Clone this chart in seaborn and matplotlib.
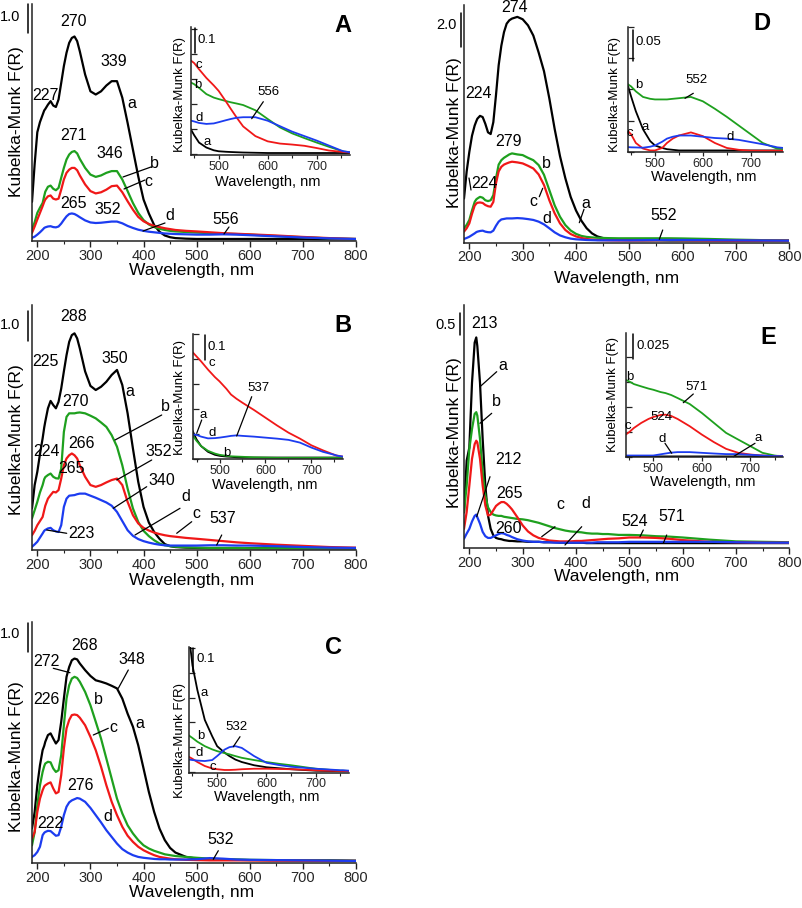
import matplotlib
matplotlib.use("Agg")
import matplotlib.pyplot as plt
from matplotlib.ticker import FixedLocator, MultipleLocator, NullFormatter
import seaborn as sns

sns.set_theme(style="ticks")
plt.rcParams['font.family'] = ['Liberation Sans', 'DejaVu Sans']

W, H = 803, 908

# ---------------- data (Kubelka-Munk F(R)) ----------------
G = [190, 195, 200, 205, 210, 213, 215, 220, 225, 230, 235, 240, 245, 250, 255,
     260, 265, 270, 275, 280, 290, 300, 310, 320, 330, 340, 350, 360, 370, 380,
     390, 400, 410, 420, 430, 440, 450, 460, 480, 500, 525, 550, 575, 600, 650,
     700, 750, 800]

A_a = [1.3, 2.6, 3.7, 4.05, 4.3, 4.45, 4.5, 4.65, 4.77, 4.62, 4.57, 4.83, 5.4, 5.98, 6.44,
       6.78, 6.95, 7.0, 6.84, 6.49, 5.69, 5.11, 5.0, 5.11, 5.31, 5.46, 5.46, 4.89, 4.02, 3.1,
       2.18, 1.38, 0.9, 0.5, 0.27, 0.14, 0.08, 0.05, 0.03, 0.02, 0.02, 0.02, 0.02, 0.02, 0.02,
       0.02, 0.01, 0.01]
A_b = [0.34, 0.6, 0.92, 1.1, 1.26, 1.5, 1.65, 1.82, 1.86, 1.75, 1.70, 1.78, 2.13, 2.47, 2.76,
       2.93, 3.02, 3.05, 2.97, 2.78, 2.47, 2.24, 2.16, 2.21, 2.30, 2.36, 2.36, 2.07, 1.67, 1.26,
       0.92, 0.67, 0.52, 0.43, 0.37, 0.33, 0.30, 0.28, 0.26, 0.24, 0.22, 0.20, 0.19, 0.17, 0.12,
       0.08, 0.04, 0.02]
A_c = [0.23, 0.45, 0.69, 0.92, 1.15, 1.3, 1.38, 1.49, 1.52, 1.41, 1.38, 1.41, 1.72, 2.07, 2.30,
       2.41, 2.47, 2.47, 2.39, 2.21, 1.90, 1.67, 1.59, 1.63, 1.72, 1.84, 1.86, 1.63, 1.32, 1.03,
       0.78, 0.63, 0.54, 0.47, 0.43, 0.39, 0.36, 0.33, 0.30, 0.28, 0.25, 0.22, 0.20, 0.18, 0.14,
       0.09, 0.05, 0.02]
A_d = [0.06, 0.1, 0.17, 0.25, 0.34, 0.4, 0.42, 0.45, 0.46, 0.43, 0.42, 0.45, 0.55, 0.68, 0.8,
       0.88, 0.9, 0.88, 0.83, 0.77, 0.66, 0.59, 0.57, 0.58, 0.6, 0.62, 0.62, 0.56, 0.47, 0.4,
       0.34, 0.3, 0.27, 0.25, 0.23, 0.21, 0.2, 0.19, 0.18, 0.17, 0.17, 0.18, 0.17, 0.15, 0.11,
       0.07, 0.04, 0.02]

B_a = [1.36, 2.15, 2.6, 3.2, 3.73, 4.1, 4.3, 4.75, 5.0, 4.86, 4.75, 4.97, 5.42, 6.0, 6.55,
       7.0, 7.23, 7.29, 7.12, 6.78, 6.0, 5.51, 5.37, 5.48, 5.65, 5.88, 6.05, 5.54, 4.58, 3.39,
       2.26, 1.41, 0.88, 0.56, 0.33, 0.15, 0.08, 0.05, 0.03, 0.02, 0.01, 0.01, 0.01, 0.01, 0.01,
       0.01, 0.01, 0.01]
B_b = [1.02, 1.3, 1.58, 1.9, 2.15, 2.35, 2.42, 2.49, 2.54, 2.43, 2.38, 2.37, 2.71, 3.95, 4.46,
       4.58, 4.58, 4.58, 4.6, 4.61, 4.58, 4.5, 4.41, 4.27, 4.12, 3.84, 3.45, 2.82, 2.03, 1.36,
       0.9, 0.6, 0.42, 0.28, 0.17, 0.11, 0.08, 0.06, 0.04, 0.03, 0.02, 0.02, 0.02, 0.01, 0.01,
       0.01, 0.01, 0.01]
B_c = [0.45, 0.6, 0.79, 0.93, 1.07, 1.3, 1.45, 1.69, 1.81, 1.92, 1.9, 1.98, 2.37, 2.82, 3.05,
       3.16, 3.22, 3.16, 3.05, 2.82, 2.43, 2.15, 2.09, 2.15, 2.24, 2.32, 2.37, 2.15, 1.58, 1.13,
       0.85, 0.7, 0.61, 0.54, 0.49, 0.45, 0.42, 0.4, 0.36, 0.33, 0.29, 0.25, 0.21, 0.18, 0.13,
       0.09, 0.05, 0.03]
B_d = [0.06, 0.14, 0.23, 0.37, 0.51, 0.6, 0.63, 0.68, 0.7, 0.62, 0.58, 0.56, 0.79, 1.41, 1.69,
       1.79, 1.8, 1.81, 1.84, 1.86, 1.86, 1.79, 1.72, 1.64, 1.56, 1.45, 1.24, 0.93, 0.62, 0.43,
       0.32, 0.25, 0.2, 0.16, 0.13, 0.11, 0.1, 0.1, 0.1, 0.1, 0.11, 0.11, 0.1, 0.1, 0.08,
       0.05, 0.03, 0.02]

C_a = [1.15, 1.72, 2.64, 3.33, 3.85, 4.0, 4.14, 4.37, 4.43, 4.25, 4.08, 4.2, 4.83, 5.63, 6.38,
       6.72, 6.95, 7.01, 6.98, 6.84, 6.61, 6.41, 6.26, 6.21, 6.15, 6.07, 5.98, 5.63, 5.11, 4.66,
       4.02, 3.22, 2.41, 1.72, 1.15, 0.75, 0.48, 0.32, 0.17, 0.11, 0.09, 0.08, 0.07, 0.06, 0.06,
       0.05, 0.05, 0.04]
C_b = [0.57, 1.03, 1.95, 2.64, 3.1, 3.3, 3.39, 3.45, 3.43, 3.22, 3.1, 3.16, 3.68, 4.71, 5.63,
       6.09, 6.32, 6.38, 6.34, 6.21, 5.86, 5.4, 4.83, 4.25, 3.56, 2.87, 2.18, 1.67, 1.26, 0.98,
       0.75, 0.57, 0.46, 0.38, 0.32, 0.26, 0.23, 0.2, 0.17, 0.14, 0.11, 0.09, 0.08, 0.07, 0.06,
       0.05, 0.04, 0.03]
C_c = [0.8, 1.03, 1.72, 2.18, 2.47, 2.6, 2.64, 2.7, 2.74, 2.53, 2.36, 2.41, 2.99, 3.91, 4.6,
       4.89, 5.06, 5.08, 5.06, 4.97, 4.71, 4.31, 3.85, 3.28, 2.64, 2.07, 1.61, 1.21, 0.9, 0.69,
       0.52, 0.4, 0.31, 0.23, 0.17, 0.14, 0.11, 0.09, 0.07, 0.06, 0.05, 0.05, 0.05, 0.05, 0.04,
       0.04, 0.03, 0.03]
C_d = [0.17, 0.23, 0.34, 0.52, 0.92, 1.0, 1.03, 1.07, 1.06, 0.98, 0.9, 0.92, 1.21, 1.61, 1.9,
       2.05, 2.12, 2.16, 2.2, 2.18, 2.07, 1.86, 1.61, 1.36, 1.09, 0.86, 0.63, 0.44, 0.32, 0.23,
       0.17, 0.14, 0.12, 0.1, 0.09, 0.09, 0.08, 0.08, 0.08, 0.09, 0.13, 0.11, 0.08, 0.07, 0.06,
       0.05, 0.04, 0.03]

D_a = [2.5, 4.1, 5.25, 6.2, 6.8, 7.05, 7.2, 7.37, 7.3, 6.9, 6.4, 6.3, 7.0, 8.6, 10.35,
       11.5, 12.3, 12.8, 13.0, 13.1, 13.2, 13.06, 12.7, 12.1, 11.1, 10.0, 8.4, 6.6, 5.0, 3.7,
       2.6, 1.8, 1.2, 0.75, 0.45, 0.27, 0.18, 0.12, 0.07, 0.05, 0.04, 0.04, 0.03, 0.03, 0.03,
       0.02, 0.02, 0.02]
D_b = [0.75, 0.95, 1.24, 1.8, 2.3, 2.45, 2.5, 2.6, 2.55, 2.4, 2.35, 2.4, 2.7, 3.7, 4.5,
       4.76, 4.9, 5.0, 5.1, 5.16, 5.1, 5.06, 4.9, 4.76, 4.47, 3.9, 3.0, 2.1, 1.43, 0.94,
       0.62, 0.42, 0.3, 0.24, 0.21, 0.19, 0.18, 0.17, 0.16, 0.16, 0.16, 0.16, 0.16, 0.15, 0.12,
       0.08, 0.05, 0.03]
D_c = [0.55, 0.75, 1.04, 1.6, 2.08, 2.2, 2.25, 2.27, 2.24, 2.12, 2.05, 2.02, 2.3, 3.4, 4.1,
       4.37, 4.5, 4.57, 4.63, 4.67, 4.63, 4.57, 4.43, 4.27, 3.92, 3.3, 2.4, 1.63, 1.04, 0.65,
       0.41, 0.27, 0.18, 0.12, 0.08, 0.06, 0.05, 0.04, 0.03, 0.03, 0.04, 0.05, 0.06, 0.05, 0.03,
       0.02, 0.02, 0.02]
D_d = [0.12, 0.18, 0.25, 0.35, 0.45, 0.52, 0.55, 0.59, 0.61, 0.55, 0.52, 0.51, 0.61, 0.9, 1.14,
       1.27, 1.3, 1.33, 1.33, 1.33, 1.35, 1.33, 1.29, 1.24, 1.14, 0.98, 0.75, 0.51, 0.33, 0.22,
       0.14, 0.1, 0.08, 0.06, 0.05, 0.04, 0.04, 0.04, 0.04, 0.04, 0.05, 0.06, 0.06, 0.06, 0.05,
       0.04, 0.03, 0.02]

E_a = [0.8, 2.0, 2.3, 3.8, 4.73, 4.85, 4.65, 3.8, 2.5, 1.42, 0.73, 0.42, 0.27, 0.21, 0.19,
       0.18, 0.16, 0.15, 0.14, 0.14, 0.13, 0.13, 0.12, 0.12, 0.12, 0.11, 0.11, 0.11, 0.1, 0.1,
       0.1, 0.1, 0.1, 0.09, 0.09, 0.09, 0.09, 0.09, 0.09, 0.09, 0.09, 0.09, 0.09, 0.09, 0.09,
       0.09, 0.09, 0.09]
E_b = [0.81, 1.42, 2.27, 2.73, 3.08, 3.12, 3.04, 2.5, 1.73, 1.19, 0.92, 0.81, 0.75, 0.73, 0.72,
       0.72, 0.7, 0.69, 0.68, 0.67, 0.65, 0.64, 0.62, 0.59, 0.56, 0.52, 0.48, 0.44, 0.41, 0.38,
       0.36, 0.35, 0.34, 0.32, 0.31, 0.31, 0.3, 0.3, 0.28, 0.28, 0.27, 0.25, 0.24, 0.22, 0.17,
       0.13, 0.12, 0.11]
E_c = [0.42, 0.81, 1.42, 2.04, 2.38, 2.46, 2.42, 2.04, 1.42, 0.96, 0.73, 0.75, 0.85, 0.95, 1.0,
       1.04, 1.04, 1.0, 0.94, 0.87, 0.69, 0.5, 0.36, 0.27, 0.21, 0.18, 0.15, 0.14, 0.13, 0.13,
       0.13, 0.14, 0.14, 0.15, 0.16, 0.17, 0.18, 0.19, 0.2, 0.22, 0.22, 0.21, 0.19, 0.16, 0.12,
       0.11, 0.1, 0.1]
E_d = [0.19, 0.31, 0.42, 0.59, 0.72, 0.75, 0.69, 0.54, 0.35, 0.25, 0.21, 0.21, 0.24, 0.27, 0.3,
       0.32, 0.31, 0.28, 0.26, 0.23, 0.18, 0.15, 0.13, 0.12, 0.12, 0.11, 0.11, 0.1, 0.1, 0.1,
       0.1, 0.1, 0.1, 0.1, 0.1, 0.11, 0.11, 0.11, 0.11, 0.12, 0.12, 0.12, 0.12, 0.12, 0.12,
       0.11, 0.1, 0.1]

# inset (visible range) spectra
IG = [440, 450, 460, 475, 490, 500, 515, 525, 537, 550, 575, 600, 625, 650, 675, 700, 725, 750, 755, 768]

IA_a = [0.11, 0.075, 0.045, 0.025, 0.014, 0.01, 0.008, 0.007, 0.006, 0.005, 0.004, 0.003, 0.003, 0.003, 0.003, 0.003, 0.003, 0.003, 0.003, 0.003]
IA_b = [0.29, 0.28, 0.265, 0.24, 0.226, 0.22, 0.212, 0.207, 0.202, 0.196, 0.175, 0.14, 0.106, 0.082, 0.063, 0.045, 0.028, 0.012, 0.009, 0.006]
IA_c = [0.38, 0.365, 0.34, 0.305, 0.275, 0.253, 0.21, 0.18, 0.145, 0.11, 0.071, 0.05, 0.041, 0.037, 0.032, 0.023, 0.013, 0.008, 0.007, 0.005]
IA_d = [0.135, 0.13, 0.124, 0.12, 0.122, 0.127, 0.135, 0.14, 0.145, 0.147, 0.147, 0.133, 0.111, 0.089, 0.071, 0.053, 0.033, 0.013, 0.01, 0.006]

IB_a = [0.117, 0.077, 0.05, 0.027, 0.015, 0.011, 0.008, 0.007, 0.005, 0.004, 0.004, 0.004, 0.004, 0.004, 0.004, 0.004, 0.004, 0.004, 0.004, 0.004]
IB_b = [0.097, 0.071, 0.05, 0.031, 0.02, 0.015, 0.011, 0.009, 0.008, 0.007, 0.005, 0.004, 0.003, 0.003, 0.003, 0.003, 0.003, 0.003, 0.003, 0.003]
IB_c = [0.43, 0.41, 0.39, 0.357, 0.327, 0.31, 0.28, 0.257, 0.24, 0.224, 0.195, 0.164, 0.133, 0.104, 0.08, 0.053, 0.033, 0.015, 0.012, 0.008]
IB_d = [0.097, 0.095, 0.088, 0.081, 0.082, 0.084, 0.088, 0.091, 0.093, 0.091, 0.088, 0.084, 0.08, 0.075, 0.064, 0.044, 0.027, 0.015, 0.012, 0.008]

IC_a = [0.6, 0.43, 0.33, 0.21, 0.144, 0.104, 0.078, 0.064, 0.05, 0.04, 0.027, 0.019, 0.015, 0.011, 0.008, 0.005, 0.004, 0.003, 0.003, 0.003]
IC_b = [0.151, 0.137, 0.122, 0.104, 0.091, 0.084, 0.076, 0.071, 0.064, 0.057, 0.048, 0.04, 0.033, 0.027, 0.02, 0.013, 0.009, 0.005, 0.005, 0.004]
IC_c = [0.064, 0.053, 0.04, 0.024, 0.014, 0.011, 0.008, 0.008, 0.009, 0.011, 0.013, 0.013, 0.012, 0.011, 0.009, 0.007, 0.005, 0.004, 0.004, 0.003]
IC_d = [0.051, 0.048, 0.046, 0.044, 0.048, 0.064, 0.09, 0.1, 0.104, 0.097, 0.064, 0.037, 0.028, 0.021, 0.017, 0.013, 0.01, 0.007, 0.007, 0.005]

ID_a = [0.115, 0.089, 0.065, 0.036, 0.017, 0.01, 0.006, 0.004, 0.003, 0.002, 0.002, 0.002, 0.002, 0.002, 0.002, 0.002, 0.002, 0.002, 0.002, 0.002]
ID_b = [0.11, 0.105, 0.097, 0.088, 0.085, 0.084, 0.084, 0.084, 0.085, 0.086, 0.088, 0.081, 0.069, 0.056, 0.042, 0.028, 0.014, 0.0064, 0.005, 0.004]
ID_c = [0.036, 0.028, 0.014, 0.005, 0.002, 0.002, 0.006, 0.014, 0.021, 0.026, 0.031, 0.025, 0.014, 0.006, 0.003, 0.0016, 0.0015, 0.0015, 0.0015, 0.0015]
ID_d = [0.0075, 0.007, 0.0068, 0.0064, 0.008, 0.01, 0.016, 0.021, 0.024, 0.026, 0.026, 0.024, 0.022, 0.021, 0.019, 0.0155, 0.012, 0.008, 0.007, 0.006]

IE_a = [0.0007, 0.0005, 0.0004, 0.0004, 0.0004, 0.0004, 0.0004, 0.0004, 0.0004, 0.0004, 0.0004, 0.0004, 0.0004, 0.0004, 0.0004, 0.0004, 0.0004, 0.0004, 0.0004, 0.0004]
IE_b = [0.078, 0.0757, 0.073, 0.0707, 0.0685, 0.0673, 0.065, 0.064, 0.062, 0.059, 0.053, 0.044, 0.034, 0.024, 0.0173, 0.0107, 0.004, 0.0013, 0.001, 0.0008]
IE_c = [0.0213, 0.0247, 0.029, 0.034, 0.038, 0.04, 0.042, 0.0423, 0.041, 0.038, 0.0307, 0.0223, 0.0147, 0.008, 0.004, 0.0023, 0.0013, 0.0007, 0.0007, 0.0006]
IE_d = [0.0013, 0.0013, 0.0013, 0.0013, 0.0013, 0.0013, 0.0025, 0.0033, 0.0042, 0.0047, 0.0047, 0.004, 0.0033, 0.0027, 0.0027, 0.002, 0.0013, 0.0007, 0.0007, 0.0006]

X_TICKS = [200, 300, 400, 500, 600, 700, 800]
INSET_TICKS = [500, 600, 700]

# ---------------- styling ----------------
COL = {'a': '#000000', 'b': '#1ea01e', 'c': '#f01818', 'd': '#1c3cf0'}
SPINE = '#222222'
FS_TICK, FS_LAB, FS_ANN = 10.5, 12.5, 11.5
FS_ITICK, FS_ILAB, FS_IANN = 9, 9.5, 9.5

fig = plt.figure(figsize=(W / 100, H / 100), dpi=100)


def rect(l, t, r, b):
    return [l / W, 1 - b / H, (r - l) / W, (b - t) / H]


def P(ax, x, y):
    return ax.transData.inverted().transform((x, H - y))


def txt(ax, x, y, s, size, ha='center', **kw):
    X, Y = P(ax, x, y)
    ax.text(X, Y, s, fontsize=size, ha=ha, va='center', clip_on=False, color='black',
            zorder=5, **kw)


def seg(ax, x1, y1, x2, y2, lw=0.9):
    p1, p2 = P(ax, x1, y1), P(ax, x2, y2)
    ax.plot([p1[0], p2[0]], [p1[1], p2[1]], color='black', lw=lw, clip_on=False)


def style_axes(ax):
    for s in ('top', 'right'):
        ax.spines[s].set_visible(False)
    for s in ('left', 'bottom'):
        ax.spines[s].set_color(SPINE)
        ax.spines[s].set_linewidth(1.1)
    ax.set_facecolor('none')


def main_panel(box, ylim, curves, bar_px, bar_val, bar_lab_px, ylab_px, xlab_px):
    ax = fig.add_axes(rect(*box))
    for k in 'abcd':
        sns.lineplot(x=G, y=curves[k], ax=ax, color=COL[k], lw=1.6, estimator=None,
                     sort=False, legend=False)
    ax.set_xlim(190, 800)
    ax.set_ylim(*ylim)
    style_axes(ax)
    ax.xaxis.set_major_locator(FixedLocator(X_TICKS))
    ax.xaxis.set_minor_locator(MultipleLocator(50))
    ax.tick_params(axis='x', which='major', direction='out', length=4, width=1,
                   labelsize=FS_TICK, pad=1.5, color=SPINE)
    ax.tick_params(axis='x', which='minor', direction='out', length=2.5, width=0.8, color=SPINE)
    ax.set_yticks([])
    ax.set_xlabel('')
    ax.set_ylabel('')
    # scale bar
    bx, by = bar_px
    x0, ytop = P(ax, bx, by)
    ax.plot([x0, x0], [ytop, ytop - bar_val], color='black', lw=1.1, clip_on=False)
    txt(ax, bar_lab_px[0], bar_lab_px[1], f'{bar_val:.1f}', FS_TICK, ha='right')
    txt(ax, ylab_px[0], ylab_px[1], 'Kubelka-Munk F(R)', FS_LAB, rotation=90)
    txt(ax, xlab_px[0], xlab_px[1], 'Wavelength, nm', FS_LAB)
    return ax


def inset_panel(box, ylim, step, curves, bar_px, bar_val, bar_txt, ylab_px, xlab_px):
    ax = fig.add_axes(rect(*box))
    for k in 'abcd':
        sns.lineplot(x=IG, y=curves[k], ax=ax, color=COL[k], lw=1.3, estimator=None,
                     sort=False, legend=False)
    ax.set_xlim(443, 768)
    ax.set_ylim(*ylim)
    style_axes(ax)
    ax.xaxis.set_major_locator(FixedLocator(INSET_TICKS))
    ax.xaxis.set_minor_locator(MultipleLocator(50))
    ax.tick_params(axis='x', which='major', direction='out', length=3, width=0.9,
                   labelsize=FS_ITICK, pad=1, color=SPINE)
    ax.tick_params(axis='x', which='minor', direction='out', length=2, width=0.8, color=SPINE)
    ax.yaxis.set_major_locator(MultipleLocator(step))
    ax.yaxis.set_major_formatter(NullFormatter())
    ax.tick_params(axis='y', which='major', direction='in', length=4, width=0.9, color=SPINE, left=True)
    ax.set_xlabel('')
    ax.set_ylabel('')
    bx, by = bar_px
    x0, ytop = P(ax, bx, by)
    ax.plot([x0, x0], [ytop, ytop - bar_val], color='black', lw=1.1, clip_on=False)
    txt(ax, bx + 3, by + 12, bar_txt, FS_IANN, ha='left')
    txt(ax, ylab_px[0], ylab_px[1], 'Kubelka-Munk F(R)', FS_ILAB, rotation=90)
    txt(ax, xlab_px[0], xlab_px[1], 'Wavelength, nm', 10.5)
    return ax


def letter(ax, x, y, s):
    txt(ax, x, y, s, 17, fontweight='bold')


# ---------------- panel A ----------------
axA = main_panel((32, 4, 356, 241), (-0.05, 8.12), {'a': A_a, 'b': A_b, 'c': A_c, 'd': A_d},
                 (27.5, 4), 1.0, (20, 17), (17, 122), (192, 271))
for s, x, y in [('270', 73, 22), ('339', 114, 62), ('227', 45, 96), ('a', 132, 104),
                ('271', 73, 135), ('346', 110, 154), ('b', 154, 164), ('c', 148, 182),
                ('265', 73, 204), ('352', 108, 209), ('d', 170, 216), ('556', 226, 220)]:
    txt(axA, x, y, s, FS_ANN)
for seg_ in [(123, 177, 151, 167), (124, 189, 145, 180), (143, 231, 165, 223), (224, 234, 229, 227)]:
    seg(axA, *seg_)

iA = inset_panel((190.7, 27, 350, 155), (-0.005, 0.51), 0.1,
                 {'a': IA_a, 'b': IA_b, 'c': IA_c, 'd': IA_d},
                 (195, 28), 0.1, '0.1', (180, 95), (268, 182))
for s, x, y in [('c', 199.3, 65), ('b', 197.3, 85), ('d', 199.3, 118.3), ('a', 206.7, 141.7),
                ('556', 268.3, 91.7)]:
    txt(iA, x, y, s, FS_IANN)
seg(iA, 251.7, 118.7, 263.3, 101.7)
letter(iA, 343, 25, 'A')

# ---------------- panel B ----------------
axB = main_panel((32, 305, 356, 550), (-0.05, 8.25), {'a': B_a, 'b': B_b, 'c': B_c, 'd': B_d},
                 (27.5, 311), 1.0, (20, 325), (17, 440), (192, 581))
for s, x, y in [('288', 73.3, 316.7), ('225', 45, 361.7), ('350', 115, 358.3), ('a', 130, 391.7),
                ('270', 75, 401.7), ('b', 165, 406.7), ('224', 46.7, 451.7), ('266', 81.7, 443.3),
                ('352', 158.3, 451.7), ('265', 71.7, 468.3), ('340', 161.7, 480), ('d', 186, 496.7),
                ('c', 196.7, 513.3), ('537', 222.7, 518.3), ('223', 81.7, 533.3)]:
    txt(axB, x, y, s, FS_ANN)
for seg_ in [(115, 440, 161.7, 415), (116.7, 480, 151.7, 460), (113.3, 508.3, 146.7, 486.7),
             (135, 535, 180, 508.3), (176.7, 533.3, 191.7, 521.7), (216.7, 545, 221.7, 535),
             (46.7, 530, 66.7, 533.3)]:
    seg(axB, *seg_)

iB = inset_panel((193.3, 334, 342.7, 459.3), (-0.003, 0.5), 0.1,
                 {'a': IB_a, 'b': IB_b, 'c': IB_c, 'd': IB_d},
                 (205, 335), 0.1, '0.1', (180, 397), (265, 485))
for s, x, y in [('c', 211.7, 363.3), ('a', 202.7, 415), ('d', 211.7, 433.3), ('b', 226.7, 452.7),
                ('537', 258.3, 388.3)]:
    txt(iB, x, y, s, FS_IANN)
seg(iB, 196.7, 433.3, 201.7, 420)
seg(iB, 236.7, 436, 251.7, 396.7)
letter(iB, 343, 325, 'B')

# ---------------- panel C ----------------
axC = main_panel((32, 621.7, 356, 863.3), (-0.05, 8.28), {'a': C_a, 'b': C_b, 'c': C_c, 'd': C_d},
                 (27.5, 623), 1.0, (20, 634), (17, 757), (192, 893))
for s, x, y in [('268', 85, 645), ('272', 46.7, 661.7), ('348', 131.7, 660), ('226', 46.7, 700),
                ('b', 98.3, 700), ('c', 113.3, 727.3), ('a', 140, 723.3), ('276', 80, 785),
                ('d', 108.3, 816.7), ('222', 50, 824), ('532', 220.7, 839)]:
    txt(axC, x, y, s, FS_ANN)
for seg_ in [(53.3, 668.3, 70, 672.7), (128.3, 670, 118.3, 688.3), (93.3, 735, 108.3, 728.3),
             (213.3, 859.3, 218.3, 850.7)]:
    seg(axC, *seg_)

iC = inset_panel((189, 646.7, 349.3, 772.7), (-0.003, 0.505), 0.1,
                 {'a': IC_a, 'b': IC_b, 'c': IC_c, 'd': IC_d},
                 (193.3, 647.5), 0.1, '0.1', (180, 740), (267, 797))
for s, x, y in [('a', 204, 692.7), ('b', 200.7, 736), ('d', 199.3, 753.3), ('c', 213.3, 766.7),
                ('532', 236.7, 727.3)]:
    txt(iC, x, y, s, FS_IANN)
seg(iC, 233.3, 746.7, 240, 736.7)
letter(iC, 333, 647, 'C')

# ---------------- panel D ----------------
axD = main_panel((464, 5, 789.3, 242.7), (-0.1, 13.9), {'a': D_a, 'b': D_b, 'c': D_c, 'd': D_d},
                 (461, 13.3), 2.0, (457, 25), (455, 133), (617, 279))
for s, x, y in [('274', 515, 8), ('224', 478.3, 93.3), ('279', 508.3, 141.7), ('224', 485, 183.3),
                ('b', 546.7, 163.3), ('c', 533.3, 201.7), ('a', 586, 203.3), ('d', 546.7, 218.3),
                ('552', 663.3, 215)]:
    txt(axD, x, y, s, FS_ANN)
for seg_ in [(539.3, 196.7, 542.7, 188.3), (584, 209.3, 579.3, 222.7), (662.7, 230, 659.3, 239.3),
             (469, 178, 471, 190)]:
    seg(axD, *seg_)

iD = inset_panel((627.7, 27.3, 783.3, 152.3), (-0.001, 0.2), 0.05,
                 {'a': ID_a, 'b': ID_b, 'c': ID_c, 'd': ID_d},
                 (632.7, 30), 0.05, '0.05', (615, 95), (704, 177))
for s, x, y in [('b', 638.3, 85), ('a', 645, 126.7), ('c', 630, 133.3), ('552', 696.7, 80),
                ('d', 730, 136.7)]:
    txt(iD, x, y, s, FS_IANN)
seg(iD, 685, 98.3, 693.3, 93.3)
letter(iD, 762, 23, 'D')

# ---------------- panel E ----------------
axE = main_panel((464, 305, 789.3, 548.3), (-0.03, 5.6), {'a': E_a, 'b': E_b, 'c': E_c, 'd': E_d},
                 (460, 313.3), 0.5, (456, 325), (455, 433), (617, 576))
for s, x, y in [('213', 485, 323.3), ('a', 503.3, 365), ('b', 496.7, 401.7), ('212', 508.3, 460),
                ('265', 510, 493.3), ('260', 508.3, 528.3), ('c', 560, 505), ('d', 586, 503.3),
                ('524', 635, 521.7), ('571', 671.7, 516.7)]:
    txt(axE, x, y, s, FS_ANN)
for seg_ in [(480, 386.7, 496.7, 371.7), (480, 423.3, 491.7, 413.3), (476.7, 516.7, 490, 476.7),
             (541.7, 536.7, 555, 526.7), (565, 545, 581.7, 526.7), (640, 536.7, 643.3, 530),
             (663.3, 543.3, 666.7, 535)]:
    seg(axE, *seg_)

iE = inset_panel((625.7, 333.3, 783.3, 457.3), (-0.0005, 0.124), 0.025,
                 {'a': IE_a, 'b': IE_b, 'c': IE_c, 'd': IE_d},
                 (633.3, 334), 0.025, '0.025', (613, 395), (703, 482))
for s, x, y in [('b', 630, 377.3), ('c', 627.7, 426), ('d', 661.7, 439.3), ('524', 661.7, 416.7),
                ('571', 696.7, 386.7), ('a', 758.3, 438.3)]:
    txt(iE, x, y, s, FS_IANN)
seg(iE, 665, 443.3, 671.7, 453.3)
seg(iE, 683.3, 402.7, 693.3, 394)
seg(iE, 733.3, 456.7, 755, 443.3)
letter(iE, 768, 337, 'E')

fig.savefig('out.png', dpi=100)
